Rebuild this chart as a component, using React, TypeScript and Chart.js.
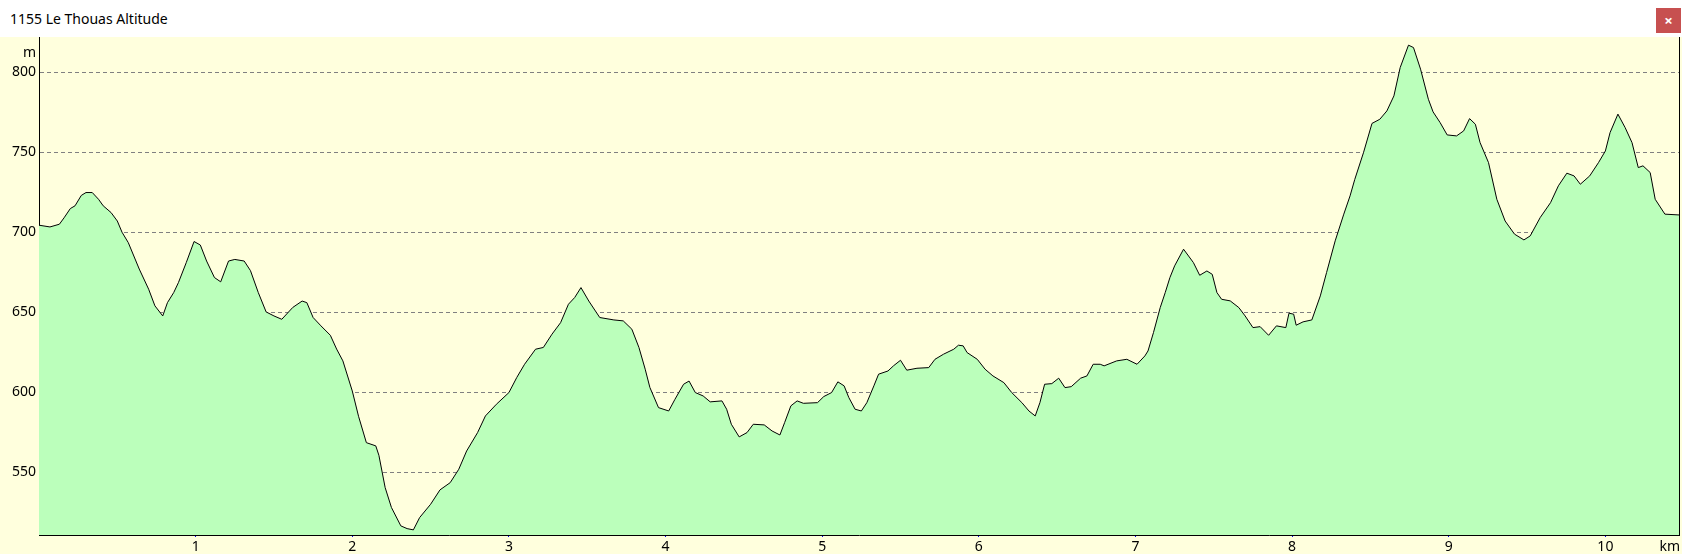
import React, { useEffect, useRef } from "react";
import { Chart, registerables } from "chart.js";

Chart.register(...registerables);

const chartTitle = "1155 Le Thouas Altitude";
const yUnitLabel = "m";
const xUnitLabel = "km";

const distanceKm = [
  0.0, 0.07, 0.13, 0.16, 0.2, 0.23, 0.27, 0.3, 0.34, 0.38, 0.41, 0.46, 0.5, 0.53, 0.57, 0.64, 0.7, 0.74, 0.79, 0.82,
  0.86, 0.89, 0.94, 0.99, 1.03, 1.07, 1.12, 1.16, 1.21, 1.25, 1.31, 1.35, 1.4, 1.45, 1.5, 1.55, 1.62, 1.68, 1.71, 1.75,
  1.8, 1.86, 1.9, 1.94, 2.0, 2.04, 2.09, 2.15, 2.17, 2.21, 2.25, 2.31, 2.35, 2.39, 2.43, 2.5, 2.56, 2.625, 2.68, 2.73,
  2.8, 2.85, 2.92, 3.0, 3.05, 3.1, 3.17, 3.22, 3.275, 3.33, 3.38, 3.42, 3.46, 3.51, 3.58, 3.67, 3.73, 3.785, 3.83, 3.87,
  3.9, 3.955, 4.02, 4.06, 4.115, 4.15, 4.19, 4.24, 4.285, 4.36, 4.39, 4.42, 4.47, 4.52, 4.56, 4.63, 4.68, 4.73, 4.76, 4.8,
  4.84, 4.88, 4.97, 5.01, 5.06, 5.1, 5.14, 5.17, 5.21, 5.25, 5.285, 5.33, 5.36, 5.42, 5.455, 5.5, 5.54, 5.605, 5.68, 5.72,
  5.775, 5.84, 5.87, 5.9, 5.925, 5.99, 6.04, 6.09, 6.16, 6.21, 6.275, 6.32, 6.36, 6.39, 6.42, 6.466, 6.51, 6.55, 6.59, 6.65,
  6.69, 6.73, 6.775, 6.8, 6.88, 6.945, 7.01, 7.06, 7.08, 7.115, 7.158, 7.19, 7.22, 7.25, 7.307, 7.37, 7.41, 7.456, 7.49, 7.52,
  7.55, 7.605, 7.66, 7.7, 7.75, 7.796, 7.85, 7.9, 7.96, 7.98, 8.01, 8.026, 8.07, 8.126, 8.18, 8.22, 8.275, 8.33, 8.37, 8.4,
  8.456, 8.51, 8.56, 8.605, 8.65, 8.69, 8.743, 8.775, 8.82, 8.87, 8.9, 8.945, 8.99, 9.05, 9.095, 9.133, 9.17, 9.2, 9.254, 9.307,
  9.36, 9.42, 9.48, 9.52, 9.584, 9.65, 9.7, 9.754, 9.8, 9.84, 9.9, 9.956, 10.0, 10.03, 10.08, 10.126, 10.17, 10.21, 10.24, 10.286,
  10.318, 10.38, 10.47,
];

const elevationM = [
  704.4, 703.3, 705, 709, 714.8, 716.5, 723, 724.8, 724.8, 720.6, 716.5, 712.3, 707, 700, 693.5, 677, 664.4, 654, 647.7, 656,
  662.3, 668.5, 681, 694.2, 692, 682, 671.7, 669, 682, 683, 682, 676, 662.3, 650.2, 647.7, 645.6, 653, 657, 656, 646.7,
  641.5, 635.6, 627, 619.6, 600.8, 585, 568.5, 566.5, 560.6, 540.4, 528, 516.5, 514.8, 514, 521.7, 530, 539, 543.5, 551.9, 563.3,
  574.8, 585.2, 592.5, 599.8, 609.2, 617.5, 626.9, 628, 636.3, 643.5, 655, 659.2, 665.4, 657, 646.7, 645.2, 644.6, 639.4, 628, 614.4,
  603, 590.4, 588.3, 595.6, 605, 607, 599.8, 597.7, 594, 594.6, 589.4, 580, 572.1, 574.8, 580, 579.6, 575.8, 573.3, 581, 591.5,
  594.6, 593.1, 593.5, 597.3, 599.8, 606.5, 604, 596.7, 589.4, 588.3, 593.5, 604, 611.3, 613.3, 616.5, 620, 613.8, 615, 615.4, 620.6,
  623.8, 626.9, 629.4, 629, 624.8, 620.6, 614.4, 610.2, 606, 599.8, 593.5, 588.3, 585.2, 593.5, 605, 605.4, 608.8, 602.9, 603.5, 608.8,
  610.2, 617.5, 617.5, 616.5, 619.6, 620.6, 617.5, 622.7, 625.8, 637.3, 652.9, 662.3, 671.7, 679, 689.4, 681, 673.1, 675.8, 673.7, 662.3,
  658.1, 657.1, 652.9, 647.7, 640.4, 641, 635.6, 641.5, 640.4, 649.4, 648.8, 641.9, 644, 645.2, 660.2, 674.8, 694.6, 711.3, 722.7, 733,
  749.8, 768, 770.6, 775.8, 785.2, 802.9, 816.9, 815.4, 801.9, 783.1, 775.2, 768.5, 760.8, 760.2, 763.3, 771, 767.5, 756, 743.5, 720.6,
  707, 698.8, 695.2, 697.7, 709.2, 718.5, 729, 736.9, 735.2, 730, 735.2, 743.5, 750.8, 762.3, 773.8, 765.4, 756, 740.4, 741.5, 737.3,
  720.6, 711.3, 710.8,
];

const yTickValues = [550, 600, 650, 700, 750, 800];
const xTickValues = [1, 2, 3, 4, 5, 6, 7, 8, 9, 10];

const X_MIN = 0;
const X_MAX = 10.47;
const Y_MIN = 510.8;
const Y_MAX = 822;

const FONT = "'Noto Sans', 'DejaVu Sans', sans-serif";

export default function App() {
  const canvasRef = useRef<HTMLCanvasElement>(null);

  useEffect(() => {
    if (!canvasRef.current) return;
    const points = distanceKm.map((x, i) => ({ x, y: elevationM[i] }));

    const unitPlugin = {
      id: "unitLabels",
      afterDraw(chart: any) {
        const { ctx, chartArea } = chart;
        ctx.save();
        ctx.strokeStyle = "#000";
        ctx.lineWidth = 1;
        ctx.beginPath();
        const rx = Math.round(chartArea.right) + 0.5;
        ctx.moveTo(rx, chartArea.top);
        ctx.lineTo(rx, chartArea.bottom + 0.5);
        ctx.stroke();
        ctx.fillStyle = "#000";
        ctx.font = `14px ${FONT}`;
        ctx.textBaseline = "alphabetic";
        ctx.textAlign = "right";
        ctx.fillText(yUnitLabel, 36, 20);
        ctx.fillText(xUnitLabel, 1680, 513.5);
        ctx.restore();
      },
    };

    const chart = new Chart(canvasRef.current, {
      type: "line",
      data: {
        datasets: [
          {
            data: points,
            borderColor: "#000000",
            borderWidth: 1,
            backgroundColor: "#BBFFBB",
            fill: "start",
            pointRadius: 0,
            tension: 0,
          },
        ],
      },
      options: {
        animation: false,
        responsive: false,
        maintainAspectRatio: false,
        layout: { padding: { left: 0, right: 3, top: 0, bottom: 0 }, autoPadding: false },
        plugins: {
          legend: { display: false },
          tooltip: { enabled: false },
          title: { display: false },
        },
        scales: {
          x: {
            type: "linear",
            min: X_MIN,
            max: X_MAX,
            z: 1,
            afterBuildTicks: (s: any) => {
              s.ticks = xTickValues.map((v) => ({ value: v }));
            },
            afterFit: (s: any) => {
              s.height = 19;
              s.paddingLeft = 0;
              s.paddingRight = 0;
            },
            ticks: {
              color: "#000",
              font: { family: FONT, size: 14 },
              padding: 2,
              maxRotation: 0,
              autoSkip: false,
              callback: (v: any) => String(v),
            },
            grid: {
              display: true,
              drawOnChartArea: false,
              drawTicks: true,
              tickLength: 2,
              color: "#0000ff",
            },
            border: { display: true, color: "#000", width: 1 },
          },
          y: {
            type: "linear",
            min: Y_MIN,
            max: Y_MAX,
            z: 1,
            afterBuildTicks: (s: any) => {
              s.ticks = yTickValues.map((v) => ({ value: v }));
            },
            afterFit: (s: any) => {
              s.width = 39;
              s.paddingTop = 0;
              s.paddingBottom = 0;
            },
            ticks: {
              color: "#000",
              font: { family: FONT, size: 14 },
              padding: 3,
              autoSkip: false,
              callback: (v: any) => String(v),
            },
            grid: {
              display: true,
              drawTicks: false,
              color: "#808080",
              lineWidth: 1,
            },
            border: { display: true, color: "#000", width: 1, dash: [4, 3] },
          },
        },
      },
      plugins: [unitPlugin],
    } as any);

    return () => chart.destroy();
  }, []);

  return (
    <div
      style={{
        position: "fixed",
        left: 0,
        top: 0,
        width: 1682,
        height: 554,
        background: "#ffffff",
        overflow: "hidden",
      }}
    >
      <div
        style={{
          position: "absolute",
          left: 10,
          top: 0,
          height: 37,
          lineHeight: "37px",
          fontFamily: FONT,
          fontSize: 14,
          color: "#000",
          whiteSpace: "nowrap",
        }}
      >
        {chartTitle}
      </div>
      <div
        style={{
          position: "absolute",
          left: 1656,
          top: 8,
          width: 25,
          height: 25,
          background: "#C75050",
          color: "#fff",
          fontFamily: FONT,
          fontWeight: 700,
          fontSize: 15,
          lineHeight: "25px",
          textAlign: "center",
        }}
      >
        ×
      </div>
      <canvas
        ref={canvasRef}
        width={1682}
        height={517}
        style={{
          position: "absolute",
          left: 0,
          top: 37,
          width: 1682,
          height: 517,
          background: "#FFFFDD",
          display: "block",
        }}
      />
    </div>
  );
}
